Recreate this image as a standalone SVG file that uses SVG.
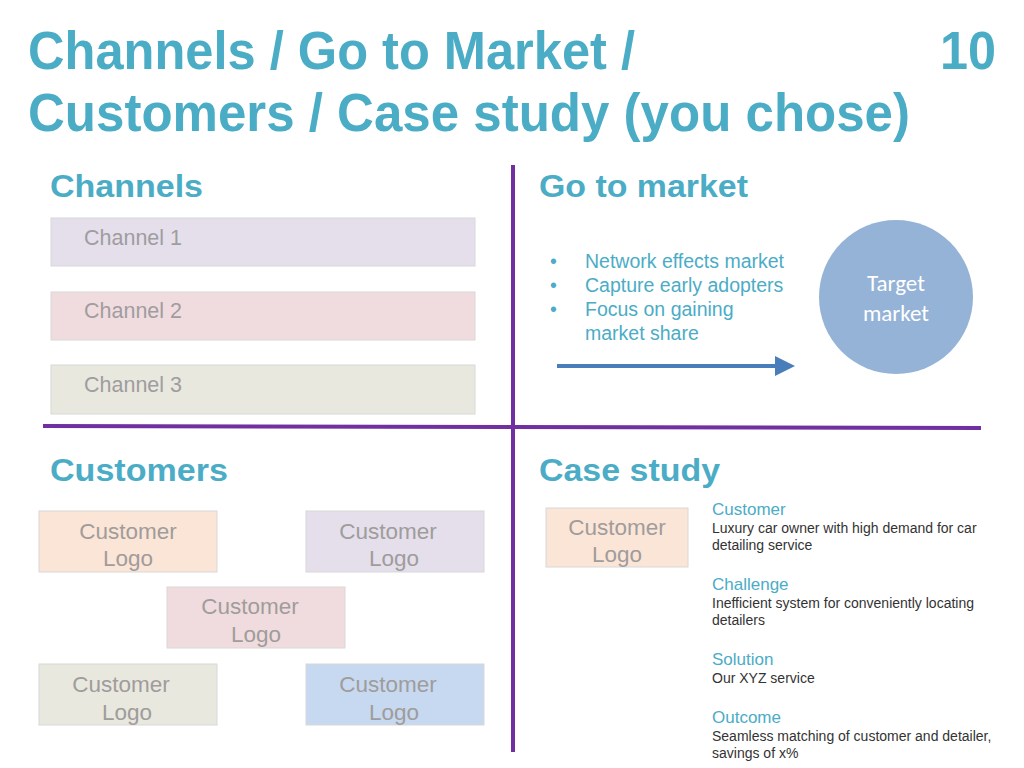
<svg xmlns="http://www.w3.org/2000/svg" width="1024" height="768" viewBox="0 0 1024 768">
<defs>
<style>
.title{font-family:"Liberation Sans",Arial,sans-serif;font-weight:bold;font-size:53px;fill:#4bacc6}
.head{font-family:"Liberation Sans",Arial,sans-serif;font-weight:bold;font-size:32px;fill:#4bacc6}
.ch{font-family:"Liberation Sans",Arial,sans-serif;font-size:21.5px;fill:#a09ca0}
.logo{font-family:"Liberation Sans",Arial,sans-serif;font-size:22.5px;fill:#a09c9c;text-anchor:middle}
.bul{font-family:"Liberation Sans",Arial,sans-serif;font-size:19.5px;fill:#4bacc6}
.cs{font-family:"Liberation Sans",Arial,sans-serif;font-size:17px;fill:#4bacc6}
.body{font-family:"Liberation Sans",Arial,sans-serif;font-size:14px;fill:#333}
.tm{font-family:Carlito,Calibri,"Liberation Sans",sans-serif;font-size:23px;fill:#fff;text-anchor:middle}
.box{stroke:#d8d8d8;stroke-width:1}
</style>
<marker id="ah" markerWidth="5" markerHeight="5" refX="0" refY="2.5" orient="auto" markerUnits="strokeWidth"><path d="M0,0 L5,2.5 L0,5 Z" fill="#4a7ebb"/></marker>
</defs>
<rect width="1024" height="768" fill="#fff"/>
<g id="title">
<text class="title" x="28" y="69" textLength="607" lengthAdjust="spacingAndGlyphs">Channels / Go to Market /</text>
<text class="title" x="28" y="131" textLength="882" lengthAdjust="spacingAndGlyphs">Customers / Case study (you chose)</text>
<text class="title" x="940" y="69" textLength="56" lengthAdjust="spacingAndGlyphs">10</text>
</g>
<g id="dividers">
<line x1="513" y1="165" x2="513" y2="752" stroke="#7030a0" stroke-width="4"/>
<line x1="43" y1="426" x2="981" y2="428" stroke="#7030a0" stroke-width="4"/>
</g>
<g id="headings">
<text class="head" x="50" y="197" textLength="153" lengthAdjust="spacingAndGlyphs">Channels</text>
<text class="head" x="539" y="197" textLength="209" lengthAdjust="spacingAndGlyphs">Go to market</text>
<text class="head" x="50" y="481" textLength="178" lengthAdjust="spacingAndGlyphs">Customers</text>
<text class="head" x="539" y="481" textLength="181" lengthAdjust="spacingAndGlyphs">Case study</text>
</g>
<g id="channel1"><rect class="box" x="51" y="218" width="424" height="48" fill="#e4dfeb"/><text class="ch" x="84" y="245">Channel 1</text></g>
<g id="channel2"><rect class="box" x="51" y="292" width="424" height="48" fill="#f0dcde"/><text class="ch" x="84" y="318">Channel 2</text></g>
<g id="channel3"><rect class="box" x="51" y="365" width="424" height="49" fill="#e8e8df"/><text class="ch" x="84" y="392">Channel 3</text></g>
<g id="bullets">
<text class="bul" x="550" y="268">•</text><text class="bul" x="585" y="268">Network effects market</text>
<text class="bul" x="550" y="292">•</text><text class="bul" x="585" y="292">Capture early adopters</text>
<text class="bul" x="550" y="316">•</text><text class="bul" x="585" y="316">Focus on gaining</text>
<text class="bul" x="585" y="340">market share</text>
</g>
<g id="connectors">
<line x1="557" y1="366" x2="775" y2="366" stroke="#4a7ebb" stroke-width="4" marker-end="url(#ah)"/>
</g>
<g id="target">
<circle cx="896" cy="297" r="77" fill="#95b3d7"/>
<text class="tm" x="896" y="291">Target</text>
<text class="tm" x="896" y="321">market</text>
</g>
<g id="cust1"><rect class="box" x="39" y="511" width="178" height="61" fill="#fbe5d6"/><text class="logo" x="128" y="539">Customer</text><text class="logo" x="128" y="566">Logo</text></g>
<g id="cust2"><rect class="box" x="306" y="511" width="178" height="61" fill="#e4dfeb"/><text class="logo" x="388" y="539">Customer</text><text class="logo" x="394" y="566">Logo</text></g>
<g id="cust3"><rect class="box" x="167" y="587" width="178" height="61" fill="#f0dcde"/><text class="logo" x="250" y="614">Customer</text><text class="logo" x="256" y="642">Logo</text></g>
<g id="cust4"><rect class="box" x="39" y="664" width="178" height="61" fill="#e8e8df"/><text class="logo" x="121" y="692">Customer</text><text class="logo" x="127" y="720">Logo</text></g>
<g id="cust5"><rect class="box" x="306" y="664" width="178" height="61" fill="#c6d9f0"/><text class="logo" x="388" y="692">Customer</text><text class="logo" x="394" y="720">Logo</text></g>
<g id="caselogo"><rect class="box" x="546" y="508" width="142" height="59" fill="#fbe5d6"/><text class="logo" x="617" y="535">Customer</text><text class="logo" x="617" y="562">Logo</text></g>
<g id="casetext">
<text class="cs" x="712" y="515">Customer</text>
<text class="body" x="712" y="533">Luxury car owner with high demand for car</text>
<text class="body" x="712" y="550">detailing service</text>
<text class="cs" x="712" y="590">Challenge</text>
<text class="body" x="712" y="608">Inefficient system for conveniently locating</text>
<text class="body" x="712" y="625">detailers</text>
<text class="cs" x="712" y="665">Solution</text>
<text class="body" x="712" y="683">Our XYZ service</text>
<text class="cs" x="712" y="723">Outcome</text>
<text class="body" x="712" y="741">Seamless matching of customer and detailer,</text>
<text class="body" x="712" y="758">savings of x%</text>
</g>
</svg>
